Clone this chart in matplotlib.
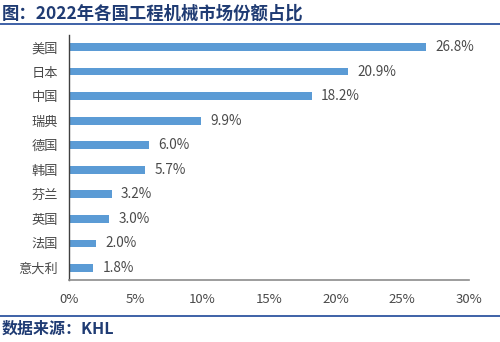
import matplotlib
matplotlib.use("Agg")
import matplotlib.pyplot as plt
from matplotlib.lines import Line2D

plt.rcParams['font.family'] = ['Noto Sans CJK SC', 'DejaVu Sans']

countries = ["美国", "日本", "中国", "瑞典", "德国", "韩国", "芬兰", "英国", "法国", "意大利"]
shares = [26.8, 20.9, 18.2, 9.9, 6.0, 5.7, 3.2, 3.0, 2.0, 1.8]
xticks = [0, 5, 10, 15, 20, 25, 30]
xtick_labels = [f"{v}%" for v in xticks]
title = "图：2022年各国工程机械市场份额占比"
source = "数据来源：KHL"

bar_color = "#5B9BD5"
navy = "#1F3B73"
rule_color = "#2F55A0"
text_gray = "#4A4A4A"

fig = plt.figure(figsize=(5.0, 3.42), dpi=100)
ax = fig.add_axes([0.138, 0.181, 0.8, 0.717])

ypos = list(range(len(countries)))
ax.barh(ypos, shares, height=0.31, color=bar_color, zorder=2)
for y, v in zip(ypos, shares):
    ax.text(v + 0.7, y, f"{v:.1f}%", va="center", ha="left",
            fontsize=9.8, color=text_gray)

ax.set_xlim(0, 30)
ax.set_ylim(len(countries) - 0.5, -0.5)
ax.set_yticks(ypos)
ax.set_yticklabels(countries, fontsize=9.5, color=text_gray)
ax.set_xticks(xticks)
ax.set_xticklabels(xtick_labels, fontsize=9.5, color=text_gray)
ax.tick_params(axis="both", length=0)
ax.tick_params(axis="y", pad=8)
ax.tick_params(axis="x", pad=9)

for side in ("top", "right"):
    ax.spines[side].set_visible(False)
ax.spines["left"].set_color("#404040")
ax.spines["left"].set_linewidth(1.0)
ax.spines["bottom"].set_color("#8C8C8C")
ax.spines["bottom"].set_linewidth(1.2)

fig.text(0.004, 1 - 13.5 / 342, title, fontsize=12.5, fontweight="bold",
         color=navy, va="center", ha="left")
fig.add_artist(Line2D([0, 1], [1 - 24 / 342] * 2, color=rule_color, lw=1.3,
                      transform=fig.transFigure))
fig.add_artist(Line2D([0, 1], [1 - 316 / 342] * 2, color=rule_color, lw=1.3,
                      transform=fig.transFigure))
fig.text(0.004, 1 - 328.5 / 342, source, fontsize=11.5, fontweight="bold",
         color=navy, va="center", ha="left")

fig.savefig("out.png", dpi=100)
